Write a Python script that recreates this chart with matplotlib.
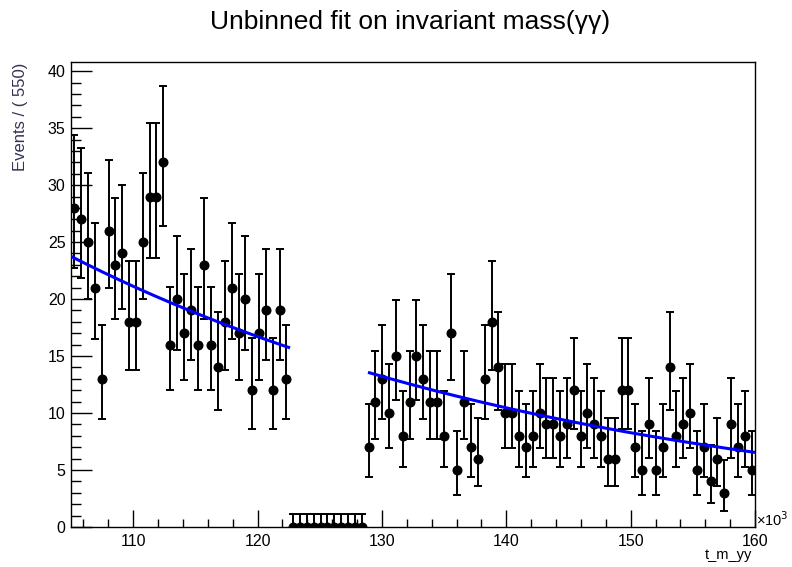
import math
import numpy as np
import matplotlib
matplotlib.use('Agg')
from matplotlib import pyplot as plt
from matplotlib.ticker import MultipleLocator

plt.rcParams['font.family'] = ['Liberation Sans', 'DejaVu Sans']

# binning (x in units of 10^3 MeV)
x_lo = 105.0
x_hi = 160.0
bin_width = 0.55

# event counts per bin: lower sideband, blinded region, upper sideband
counts_low = [28, 27, 25, 21, 13, 26, 23, 24, 18, 18, 25, 29, 29, 32, 16, 20,
              17, 19, 16, 23, 16, 14, 18, 21, 17, 20, 12, 17, 19, 12, 19, 13]
counts_blind = [0] * 11
counts_high = [7, 11, 13, 10, 15, 8, 11, 15, 13, 11, 11, 8, 17, 5, 11, 7, 6,
               13, 18, 14, 10, 10, 8, 7, 8, 10, 9, 9, 8, 9, 12, 8, 10, 9, 8,
               6, 6, 12, 12, 7, 5, 9, 5, 7, 14, 8, 9, 10, 5, 7, 4, 6, 3, 9,
               7, 8, 5]

# exponential fit
fit_norm = 23.75      # value at x = 105
fit_slope = -0.02343  # per 10^3 MeV
fit_ranges = [(105.0, 122.5), (129.0, 160.0)]


def pois_cdf(n, mu):
    s = 0.0
    term = math.exp(-mu)
    for k in range(n + 1):
        if k > 0:
            term *= mu / k
        s += term
    return s


def bisect(f, a, b):
    for _ in range(80):
        m = 0.5 * (a + b)
        if f(a) * f(m) <= 0:
            b = m
        else:
            a = m
    return 0.5 * (a + b)


def poisson_interval(n, alpha=0.158655):
    # like RooHistError: central interval, one sided for n = 0
    if n == 0:
        return 0.0, -math.log(1 - 0.682689)
    lo = bisect(lambda mu: (1 - pois_cdf(n - 1, mu)) - alpha, 1e-9, n)
    hi = bisect(lambda mu: pois_cdf(n, mu) - alpha, n, n + 10 * math.sqrt(n) + 10)
    return n - lo, hi - n


counts = np.array(counts_low + counts_blind + counts_high)
centres = x_lo + bin_width * (np.arange(len(counts)) + 0.5)
errs = np.array([poisson_interval(int(c)) for c in counts]).T

fig = plt.figure(figsize=(7.92, 5.67), dpi=100)
ax = fig.add_axes([0.0896, 0.0705, 0.8637, 0.8201])

ax.errorbar(centres, counts, yerr=errs, fmt='o', color='black', ms=6.2,
            elinewidth=1.4, capsize=3.2, capthick=1.4, zorder=3)

for a, b in fit_ranges:
    xx = np.linspace(a, b, 200)
    ax.plot(xx, fit_norm * np.exp(fit_slope * (xx - x_lo)), color='#0000ff',
            lw=2.2, zorder=4)

ax.set_xlim(x_lo, x_hi)
ax.set_ylim(0, 40.8)

ax.xaxis.set_major_locator(MultipleLocator(10))
ax.xaxis.set_minor_locator(MultipleLocator(2))
ax.yaxis.set_major_locator(MultipleLocator(5))
ax.yaxis.set_minor_locator(MultipleLocator(1))
ax.tick_params(which='both', direction='in', top=False, right=False,
               labelsize=11.5, width=1)
ax.tick_params(axis='y', which='major', length=15, pad=4)
ax.tick_params(axis='y', which='minor', length=7.5)
ax.tick_params(axis='x', which='major', length=12, pad=5)
ax.tick_params(axis='x', which='minor', length=6)
for s in ax.spines.values():
    s.set_linewidth(1)

fig.text(0.518, 0.962, 'Unbinned fit on invariant mass(\u03b3\u03b3)',
         ha='center', va='center', fontsize=19)
fig.text(0.026, 0.89, 'Events / ( 550)', rotation=90, ha='center', va='top',
         fontsize=12, color='#333355')
fig.text(0.95, 0.022, 't_m_yy', ha='right', va='center', fontsize=10.5)
fig.text(0.955, 0.083, '\u00d710$^{3}$', ha='left', va='center', fontsize=10.5)

fig.savefig('out.png', dpi=100)
